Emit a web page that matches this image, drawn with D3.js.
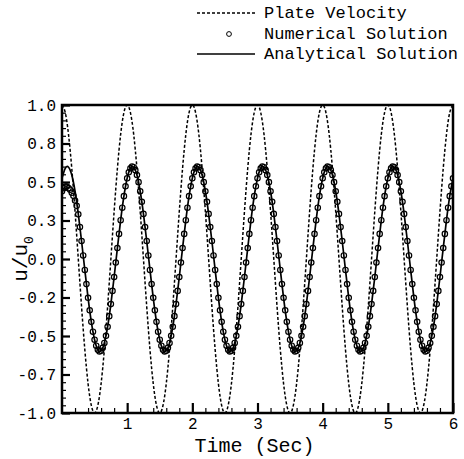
<!DOCTYPE html>
<html>
<head>
<meta charset="utf-8">
<script src="https://cdn.jsdelivr.net/npm/d3@7"></script>
<style>
  body { margin: 0; background: #fff; }
  svg text { font-family: "Liberation Mono", "DejaVu Sans Mono", monospace; fill: #000; }
</style>
</head>
<body>
<svg id="chart" width="464" height="459"></svg>
<script>
// tick values + labels
var yTickVals = [1, 0.75, 0.5, 0.25, 0, -0.25, -0.5, -0.75, -1];
var yTickLabels = ["1.0", "0.8", "0.5", "0.3", "0.0", "-0.2", "-0.5", "-0.7", "-1.0"];
var xTickVals = [1, 2, 3, 4, 5, 6];
var xTickLabels = ["1", "2", "3", "4", "5", "6"];

var legendNames = ["Plate Velocity", "Numerical Solution", "Analytical Solution"];

// plate velocity, every 0.05 s
var dtPlate = 0.05;
var plateVelocity = [
  1.000, 0.951, 0.809, 0.588, 0.309, 0.000, -0.309, -0.588, -0.809, -0.951, -1.000, -0.951, -0.809, -0.588, -0.309, 0.000, 0.309, 0.588, 0.809, 0.951,
  1.000, 0.951, 0.809, 0.588, 0.309, 0.000, -0.309, -0.588, -0.809, -0.951, -1.000, -0.951, -0.809, -0.588, -0.309, 0.000, 0.309, 0.588, 0.809, 0.951,
  1.000, 0.951, 0.809, 0.588, 0.309, 0.000, -0.309, -0.588, -0.809, -0.951, -1.000, -0.951, -0.809, -0.588, -0.309, 0.000, 0.309, 0.588, 0.809, 0.951,
  1.000, 0.951, 0.809, 0.588, 0.309, 0.000, -0.309, -0.588, -0.809, -0.951, -1.000, -0.951, -0.809, -0.588, -0.309, 0.000, 0.309, 0.588, 0.809, 0.951,
  1.000, 0.951, 0.809, 0.588, 0.309, 0.000, -0.309, -0.588, -0.809, -0.951, -1.000, -0.951, -0.809, -0.588, -0.309, 0.000, 0.309, 0.588, 0.809, 0.951,
  1.000, 0.951, 0.809, 0.588, 0.309, 0.000, -0.309, -0.588, -0.809, -0.951, -1.000, -0.951, -0.809, -0.588, -0.309, 0.000, 0.309, 0.588, 0.809, 0.951,
  1.000
];

// analytical solution, every 0.05 s
var dtAna = 0.05;
var analytical = [
  0.524, 0.589, 0.596, 0.545, 0.440, 0.293, 0.117, -0.071, -0.252, -0.408, -0.524, -0.589, -0.596, -0.545, -0.440, -0.293, -0.117, 0.071, 0.252, 0.408,
  0.524, 0.589, 0.596, 0.545, 0.440, 0.293, 0.117, -0.071, -0.252, -0.408, -0.524, -0.589, -0.596, -0.545, -0.440, -0.293, -0.117, 0.071, 0.252, 0.408,
  0.524, 0.589, 0.596, 0.545, 0.440, 0.293, 0.117, -0.071, -0.252, -0.408, -0.524, -0.589, -0.596, -0.545, -0.440, -0.293, -0.117, 0.071, 0.252, 0.408,
  0.524, 0.589, 0.596, 0.545, 0.440, 0.293, 0.117, -0.071, -0.252, -0.408, -0.524, -0.589, -0.596, -0.545, -0.440, -0.293, -0.117, 0.071, 0.252, 0.408,
  0.524, 0.589, 0.596, 0.545, 0.440, 0.293, 0.117, -0.071, -0.252, -0.408, -0.524, -0.589, -0.596, -0.545, -0.440, -0.293, -0.117, 0.071, 0.252, 0.408,
  0.524, 0.589, 0.596, 0.545, 0.440, 0.293, 0.117, -0.071, -0.252, -0.408, -0.524, -0.589, -0.596, -0.545, -0.440, -0.293, -0.117, 0.071, 0.252, 0.408,
  0.524
];

// numerical solution (circles), every 0.025 s
var dtNum = 0.025;
var numerical = [
  0.44, 0.46, 0.47, 0.47, 0.46, 0.45, 0.43, 0.41, 0.38, 0.345, 0.29, 0.207, 0.117, 0.023, -0.071, -0.163, -0.252, -0.333, -0.408, -0.472,
  -0.524, -0.563, -0.589, -0.600, -0.596, -0.577, -0.545, -0.499, -0.440, -0.371, -0.293, -0.207, -0.117, -0.023, 0.071, 0.163, 0.252, 0.333, 0.408, 0.472,
  0.524, 0.563, 0.589, 0.600, 0.596, 0.577, 0.545, 0.499, 0.440, 0.371, 0.293, 0.207, 0.117, 0.023, -0.071, -0.163, -0.252, -0.333, -0.408, -0.472,
  -0.524, -0.563, -0.589, -0.600, -0.596, -0.577, -0.545, -0.499, -0.440, -0.371, -0.293, -0.207, -0.117, -0.023, 0.071, 0.163, 0.252, 0.333, 0.408, 0.472,
  0.524, 0.563, 0.589, 0.600, 0.596, 0.577, 0.545, 0.499, 0.440, 0.371, 0.293, 0.207, 0.117, 0.023, -0.071, -0.163, -0.252, -0.333, -0.408, -0.472,
  -0.524, -0.563, -0.589, -0.600, -0.596, -0.577, -0.545, -0.499, -0.440, -0.371, -0.293, -0.207, -0.117, -0.023, 0.071, 0.163, 0.252, 0.333, 0.408, 0.472,
  0.524, 0.563, 0.589, 0.600, 0.596, 0.577, 0.545, 0.499, 0.440, 0.371, 0.293, 0.207, 0.117, 0.023, -0.071, -0.163, -0.252, -0.333, -0.408, -0.472,
  -0.524, -0.563, -0.589, -0.600, -0.596, -0.577, -0.545, -0.499, -0.440, -0.371, -0.293, -0.207, -0.117, -0.023, 0.071, 0.163, 0.252, 0.333, 0.408, 0.472,
  0.524, 0.563, 0.589, 0.600, 0.596, 0.577, 0.545, 0.499, 0.440, 0.371, 0.293, 0.207, 0.117, 0.023, -0.071, -0.163, -0.252, -0.333, -0.408, -0.472,
  -0.524, -0.563, -0.589, -0.600, -0.596, -0.577, -0.545, -0.499, -0.440, -0.371, -0.293, -0.207, -0.117, -0.023, 0.071, 0.163, 0.252, 0.333, 0.408, 0.472,
  0.524, 0.563, 0.589, 0.600, 0.596, 0.577, 0.545, 0.499, 0.440, 0.371, 0.293, 0.207, 0.117, 0.023, -0.071, -0.163, -0.252, -0.333, -0.408, -0.472,
  -0.524, -0.563, -0.589, -0.600, -0.596, -0.577, -0.545, -0.499, -0.440, -0.371, -0.293, -0.207, -0.117, -0.023, 0.071, 0.163, 0.252, 0.333, 0.408, 0.472,
  0.524
];

const svg = d3.select('#chart');
const margin = { top: 105, right: 11, bottom: 46, left: 62 };
const width = 464, height = 459;

const x = d3.scaleLinear().domain([0, 6]).range([margin.left, width - margin.right]);
const y = d3.scaleLinear().domain([-1, 1]).range([height - margin.bottom, margin.top]);

// clip for the curves
svg.append("clipPath").attr("id", "plotClip")
  .append("rect")
  .attr("x", x(0)).attr("y", y(1))
  .attr("width", x(6) - x(0)).attr("height", y(-1) - y(1));

const plot = svg.append("g").attr("clip-path", "url(#plotClip)");

// plate velocity (dashed)
plot.append("path")
  .datum(plateVelocity)
  .attr("fill", "none")
  .attr("stroke", "#000")
  .attr("stroke-width", 1.5)
  .attr("stroke-dasharray", "3,2")
  .attr("d", d3.line().x((d, i) => x(i * dtPlate)).y(d => y(d)).curve(d3.curveNatural));

// analytical solution (solid)
plot.append("path")
  .datum(analytical)
  .attr("fill", "none")
  .attr("stroke", "#000")
  .attr("stroke-width", 1.7)
  .attr("d", d3.line().x((d, i) => x(i * dtAna)).y(d => y(d)).curve(d3.curveNatural));

// numerical solution (open circles)
plot.selectAll("circle.num")
  .data(numerical)
  .join("circle")
  .attr("class", "num")
  .attr("cx", (d, i) => x(i * dtNum))
  .attr("cy", d => y(d))
  .attr("r", 2.7)
  .attr("fill", "none")
  .attr("stroke", "#000")
  .attr("stroke-width", 1.2);

// minor ticks
var yMinor = d3.range(-20, 21).map(k => k * 0.05).filter(v => Math.abs(v * 4 - Math.round(v * 4)) > 1e-6);
var xMinor = d3.range(1, 30).map(k => k * 0.2).filter(v => Math.abs(v - Math.round(v)) > 1e-6);

svg.append("g")
  .attr("transform", `translate(${x(0)},0)`)
  .call(d3.axisLeft(y).tickValues(yMinor).tickFormat("").tickSizeInner(-4).tickSizeOuter(0))
  .call(g => g.select(".domain").remove())
  .selectAll("line").attr("stroke-width", 1.2);

svg.append("g")
  .attr("transform", `translate(0,${y(-1)})`)
  .call(d3.axisBottom(x).tickValues(xMinor).tickFormat("").tickSizeInner(-5).tickSizeOuter(0))
  .call(g => g.select(".domain").remove())
  .selectAll("line").attr("stroke-width", 1.2);

// major ticks + labels
const yAxis = svg.append("g")
  .attr("transform", `translate(${x(0)},0)`)
  .call(d3.axisLeft(y).tickValues(yTickVals).tickFormat((d, i) => yTickLabels[i]).tickSizeInner(-8).tickSizeOuter(0).tickPadding(6));
yAxis.select(".domain").remove();
yAxis.selectAll("line").attr("stroke-width", 2.2);
yAxis.selectAll("text").style("font-size", "16px");

const xAxis = svg.append("g")
  .attr("transform", `translate(0,${y(-1)})`)
  .call(d3.axisBottom(x).tickValues(xTickVals).tickFormat((d, i) => xTickLabels[i]).tickSizeInner(-10).tickSizeOuter(0).tickPadding(5));
xAxis.select(".domain").remove();
xAxis.selectAll("line").attr("stroke-width", 2.2);
xAxis.selectAll("text").style("font-size", "16px");

// frame
svg.append("rect")
  .attr("x", x(0)).attr("y", y(1))
  .attr("width", x(6) - x(0)).attr("height", y(-1) - y(1))
  .attr("fill", "none")
  .attr("stroke", "#000")
  .attr("stroke-width", 2.5);

// axis titles
svg.append("text")
  .attr("x", (x(0) + x(6)) / 2 - 3)
  .attr("y", 452)
  .attr("text-anchor", "middle")
  .style("font-size", "20px")
  .text("Time (Sec)");

const yTitle = svg.append("text")
  .attr("transform", `translate(27,${y(0)}) rotate(-90)`)
  .attr("text-anchor", "middle")
  .style("font-size", "21px");
yTitle.append("tspan").text("u/u");
yTitle.append("tspan").attr("dy", 6).style("font-size", "13px").text("0");

// legend
const leg = svg.append("g");
leg.append("line")
  .attr("x1", 197).attr("x2", 255).attr("y1", 13).attr("y2", 13)
  .attr("stroke", "#000").attr("stroke-width", 1.3).attr("stroke-dasharray", "3,2");
leg.append("circle")
  .attr("cx", 229).attr("cy", 34).attr("r", 2.4)
  .attr("fill", "none").attr("stroke", "#000").attr("stroke-width", 1);
leg.append("line")
  .attr("x1", 197).attr("x2", 255).attr("y1", 54).attr("y2", 54)
  .attr("stroke", "#000").attr("stroke-width", 1.3);

leg.selectAll("text")
  .data(legendNames)
  .join("text")
  .attr("x", 264)
  .attr("y", (d, i) => 18 + i * 20.5)
  .style("font-size", "17px")
  .text(d => d);
</script>
</body>
</html>
